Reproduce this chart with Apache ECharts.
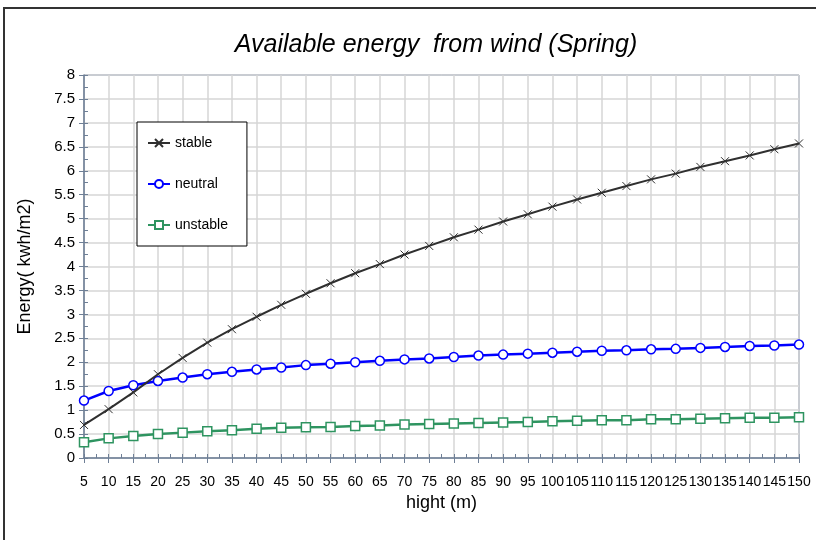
<!DOCTYPE html>
<html>
<head>
<meta charset="utf-8">
<script src="https://cdn.jsdelivr.net/npm/echarts@6/dist/echarts.min.js"></script>
<style>
  html, body { margin: 0; padding: 0; background: #fff; }
  #main { width: 816px; height: 540px; }
</style>
</head>
<body>
<div id="main"></div>
<script>
// heights (m)
var heights = [5, 10, 15, 20, 25, 30, 35, 40, 45, 50, 55, 60, 65, 70, 75, 80, 85, 90, 95, 100,
  105, 110, 115, 120, 125, 130, 135, 140, 145, 150];

var stable = [0.69, 1.02, 1.37, 1.75, 2.09, 2.41, 2.69, 2.95, 3.20, 3.43, 3.65, 3.86, 4.05, 4.25, 4.43,
  4.61, 4.77, 4.94, 5.09, 5.25, 5.40, 5.54, 5.68, 5.82, 5.94, 6.08, 6.20, 6.32, 6.45, 6.57];
var neutral = [1.20, 1.40, 1.52, 1.61, 1.68, 1.75, 1.80, 1.85, 1.89, 1.94, 1.97, 2.00, 2.03, 2.06, 2.08,
  2.11, 2.14, 2.16, 2.18, 2.20, 2.22, 2.24, 2.25, 2.27, 2.28, 2.30, 2.32, 2.34, 2.35, 2.37];
var unstable = [0.33, 0.41, 0.46, 0.50, 0.53, 0.56, 0.58, 0.61, 0.63, 0.64, 0.65, 0.67, 0.68, 0.70, 0.71,
  0.72, 0.73, 0.74, 0.75, 0.77, 0.78, 0.79, 0.79, 0.81, 0.81, 0.82, 0.83, 0.84, 0.84, 0.85];

var FONT = '"Liberation Sans", Arial, sans-serif';

function pairs(vals) {
  var out = [];
  for (var i = 0; i < heights.length; i++) {
    out.push([heights[i], vals[i]]);
  }
  return out;
}

var myChart = echarts.init(document.getElementById('main'));
myChart.setOption({
  animation: false,
  backgroundColor: '#fff',
  textStyle: { fontFamily: FONT },
  graphic: [
    {
      type: 'rect',
      shape: { x: 4, y: 8, width: 840, height: 560 },
      style: { fill: 'none', stroke: '#333', lineWidth: 2 },
      silent: true
    },
    {
      type: 'text',
      x: 436, y: 45,
      style: {
        text: 'Available energy  from wind (Spring)',
        font: 'italic 25px ' + FONT,
        fill: '#000',
        textAlign: 'center',
        textVerticalAlign: 'middle'
      }
    }
  ],
  grid: {
    left: 84, right: 17, top: 75, bottom: 82,
    show: true,
    borderColor: '#44638d',
    borderWidth: 1,
    backgroundColor: '#fff'
  },
  legend: {
    orient: 'vertical',
    left: 137, top: 122,
    padding: [14, 19, 14, 10],
    itemGap: 27,
    itemWidth: 22,
    itemHeight: 10,
    borderColor: '#000',
    borderWidth: 1,
    backgroundColor: '#fff',
    textStyle: { fontSize: 14, color: '#000', fontFamily: FONT },
    data: ['stable', 'neutral', 'unstable']
  },
  xAxis: [
    {
      type: 'value',
      min: 5, max: 150, interval: 5,
      name: 'hight (m)',
      nameLocation: 'middle',
      nameGap: 26,
      nameTextStyle: { fontSize: 18, color: '#000', fontFamily: FONT },
      axisLine: { lineStyle: { color: '#6e7f96', width: 1.5 } },
      axisTick: { show: true, length: 5, lineStyle: { color: '#6e7f96' } },
      axisLabel: { fontSize: 14, color: '#000', margin: 17, hideOverlap: false, showMinLabel: true, showMaxLabel: true },
      splitLine: { show: true, lineStyle: { color: '#d6d6d6', width: 1.5 } }
    },
    {
      // minor ticks inside
      type: 'value',
      position: 'bottom',
      min: 5, max: 150, interval: 2.5,
      axisLine: { show: false },
      axisTick: { show: true, inside: true, length: 4, lineStyle: { color: '#6e7f96' } },
      axisLabel: { show: false },
      splitLine: { show: false }
    }
  ],
  yAxis: [
    {
      type: 'value',
      min: 0, max: 8, interval: 0.5,
      name: 'Energy( kwh/m2)',
      nameLocation: 'middle',
      nameGap: 50,
      nameTextStyle: { fontSize: 18, color: '#000', fontFamily: FONT },
      axisLine: { show: true, lineStyle: { color: '#6e7f96', width: 1.5 } },
      axisTick: { show: true, length: 5, lineStyle: { color: '#6e7f96' } },
      axisLabel: { fontSize: 15, color: '#000', margin: 9 },
      splitLine: { show: true, lineStyle: { color: '#d6d6d6', width: 1.5 } }
    },
    {
      type: 'value',
      position: 'left',
      min: 0, max: 8, interval: 0.25,
      axisLine: { show: false },
      axisTick: { show: true, inside: true, length: 4, lineStyle: { color: '#6e7f96' } },
      axisLabel: { show: false },
      splitLine: { show: false }
    }
  ],
  series: [
    {
      name: 'stable',
      type: 'line',
      data: pairs(stable),
      symbol: 'path://M0,0L10,10M10,0L0,10',
      symbolSize: 8,
      lineStyle: { color: '#2f2f2f', width: 2 },
      itemStyle: { color: '#2f2f2f', borderColor: '#2f2f2f', borderWidth: 1 },
      z: 3
    },
    {
      name: 'neutral',
      type: 'line',
      data: pairs(neutral),
      symbol: 'circle',
      symbolSize: 9,
      lineStyle: { color: '#0000ff', width: 2.5 },
      itemStyle: { color: '#fff', borderColor: '#0000ff', borderWidth: 1.5 },
      z: 2
    },
    {
      name: 'unstable',
      type: 'line',
      data: pairs(unstable),
      symbol: 'rect',
      symbolSize: 9,
      lineStyle: { color: '#2e9460', width: 2.5 },
      itemStyle: { color: '#fff', borderColor: '#2e9460', borderWidth: 1.5 },
      z: 2
    }
  ]
});
</script>
</body>
</html>
